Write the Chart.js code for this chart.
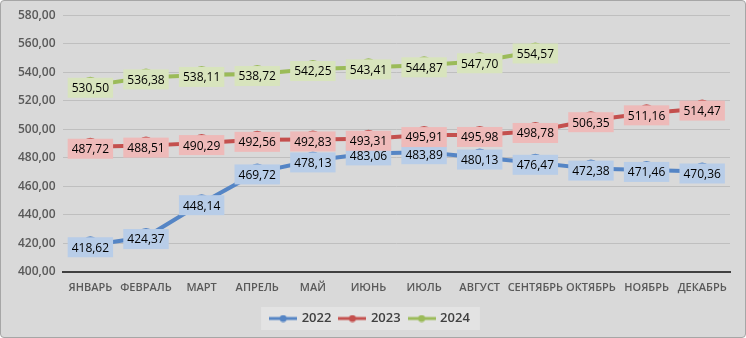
<!DOCTYPE html>
<html>
<head>
<meta charset="utf-8">
<script src="https://cdn.jsdelivr.net/npm/chart.js@4"></script>
<style>
  body { margin: 0; background: #fff; }
  #wrap { position: relative; width: 744px; height: 336px; border: 1px solid #a6a6a6; border-radius: 4px; background: #d9d9d9; overflow: hidden; }
</style>
</head>
<body>
<div id="wrap"><canvas id="salaryChart" width="744" height="336"></canvas></div>
<script>
const months = ['ЯНВАРЬ', 'ФЕВРАЛЬ', 'МАРТ', 'АПРЕЛЬ', 'МАЙ', 'ИЮНЬ', 'ИЮЛЬ', 'АВГУСТ', 'СЕНТЯБРЬ', 'ОКТЯБРЬ', 'НОЯБРЬ', 'ДЕКАБРЬ'];
const values2022 = [418.62, 424.37, 448.14, 469.72, 478.13, 483.06, 483.89, 480.13, 476.47, 472.38, 471.46, 470.36];
const values2023 = [487.72, 488.51, 490.29, 492.56, 492.83, 493.31, 495.91, 495.98, 498.78, 506.35, 511.16, 514.47];
const values2024 = [530.50, 536.38, 538.11, 538.72, 542.25, 543.41, 544.87, 547.70, 554.57, null, null, null];
const seriesNames = ['2022', '2023', '2024'];

const lineColors = ['#5585c5', '#c4504e', '#9bbb59'];
const labelColors = ['#b8cde8', '#eebab9', '#d8e4bd'];
const fontFamily = '"Open Sans", sans-serif';

function fmt(v) {
    return v.toFixed(2).replace('.', ',');
}

// small legend marker: line with a dot in the middle
function legendMarker(color) {
    const c = document.createElement('canvas');
    c.width = 28; c.height = 8;
    const g = c.getContext('2d');
    g.strokeStyle = color;
    g.lineWidth = 3;
    g.beginPath(); g.moveTo(0, 4); g.lineTo(28, 4); g.stroke();
    g.fillStyle = color;
    g.beginPath(); g.arc(14, 4, 3.5, 0, Math.PI * 2); g.fill();
    return c;
}

// value boxes drawn on top of the points
const valueLabels = {
    id: 'valueLabels',
    afterDatasetsDraw(chart) {
        const ctx = chart.ctx;
        ctx.save();
        ctx.font = '12px ' + fontFamily;
        ctx.textAlign = 'center';
        ctx.textBaseline = 'middle';
        chart.data.datasets.forEach((ds, i) => {
            const meta = chart.getDatasetMeta(i);
            meta.data.forEach((pt, j) => {
                const v = ds.data[j];
                if (v == null) return;
                const text = fmt(v);
                const w = ctx.measureText(text).width + 8;
                const h = 20;
                const y = pt.y + 2;
                ctx.fillStyle = labelColors[i];
                ctx.fillRect(pt.x - w / 2, y - h / 2, w, h);
                ctx.fillStyle = '#000';
                ctx.fillText(text, pt.x, y + 1);
            });
        });
        ctx.restore();
    }
};

// light box behind the legend (drawn before the legend itself)
const legendBox = {
    id: 'legendBox',
    beforeDraw(chart) {
        const lg = chart.legend;
        if (!lg || !lg.legendHitBoxes || !lg.legendHitBoxes.length) return;
        const boxes = lg.legendHitBoxes;
        const last = boxes[boxes.length - 1];
        const x0 = boxes[0].left - 10;
        const x1 = last.left + last.width + 10;
        const ctx = chart.ctx;
        ctx.save();
        ctx.fillStyle = '#e3e3e3';
        ctx.fillRect(x0, boxes[0].top - 5, x1 - x0, boxes[0].height + 10);
        ctx.restore();
    }
};

const datasets = [values2022, values2023, values2024].map((d, i) => ({
    label: seriesNames[i],
    data: d,
    borderColor: lineColors[i],
    backgroundColor: lineColors[i],
    borderWidth: 4,
    pointRadius: 9,
    pointHoverRadius: 9,
    pointBackgroundColor: lineColors[i],
    pointBorderWidth: 0,
    tension: 0,
    spanGaps: false
}));

const ctx = document.getElementById('salaryChart').getContext('2d');
const salaryChart = new Chart(ctx, {
    type: 'line',
    data: { labels: months, datasets: datasets },
    options: {
        responsive: false,
        animation: false,
        layout: { padding: { top: 8, right: 15, left: 10, bottom: 2 } },
        scales: {
            y: {
                min: 400,
                max: 580,
                ticks: {
                    stepSize: 20,
                    callback: v => fmt(v),
                    color: '#595959',
                    font: { family: fontFamily, size: 12, weight: '600' },
                    padding: 7
                },
                grid: { color: '#bfbfbf', lineWidth: 1, drawTicks: false },
                border: { display: false }
            },
            x: {
                offset: true,
                ticks: {
                    color: '#595959',
                    font: { family: fontFamily, size: 11, weight: '600' },
                    padding: 9,
                    maxRotation: 0,
                    autoSkip: false
                },
                grid: { display: false, drawTicks: false },
                border: { display: true, color: '#404040', width: 2 }
            }
        },
        plugins: {
            legend: {
                position: 'bottom',
                labels: {
                    usePointStyle: true,
                    pointStyleWidth: 24,
                    color: '#404040',
                    font: { family: fontFamily, size: 13, weight: '600' },
                    padding: 9,
                    generateLabels(chart) {
                        return chart.data.datasets.map((ds, i) => ({
                            text: ds.label,
                            pointStyle: legendMarker(lineColors[i]),
                            fillStyle: lineColors[i],
                            strokeStyle: lineColors[i],
                            lineWidth: 0,
                            hidden: false,
                            datasetIndex: i,
                            fontColor: '#404040'
                        }));
                    }
                }
            },
            tooltip: { enabled: false }
        }
    },
    plugins: [legendBox, valueLabels]
});
</script>
</body>
</html>
